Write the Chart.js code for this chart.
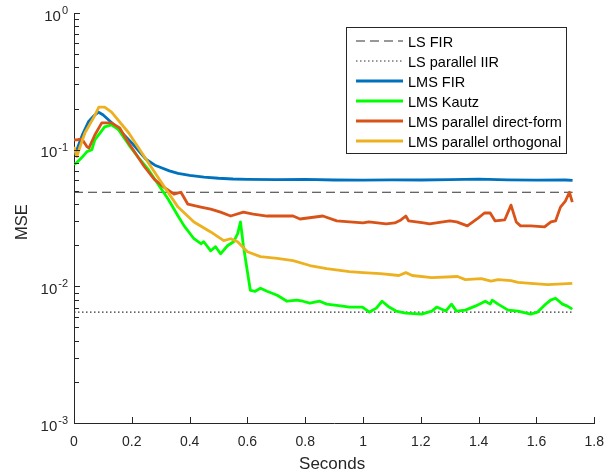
<!DOCTYPE html>
<html>
<head>
<meta charset="utf-8">
<script src="https://cdn.jsdelivr.net/npm/chart.js@4.4.1/dist/chart.umd.min.js"></script>
<style>
  html, body { margin: 0; padding: 0; background: #fff; }
</style>
</head>
<body>
<canvas id="mseChart" width="615" height="476"></canvas>
<script>
// time axis (seconds) and MSE
const tLs = [0, 1.725]
const lsFir = [0.0488, 0.0488]
const lsIir = [0.00648, 0.00648]

const tFir = [0, 0.01, 0.03, 0.05, 0.07, 0.085, 0.1, 0.12, 0.15, 0.18, 0.2, 0.22, 0.25, 0.28, 0.3, 0.33, 0.36, 0.4, 0.45, 0.5, 0.55, 0.6, 0.7, 0.8, 0.9, 1.0, 1.1, 1.2, 1.3, 1.4, 1.5, 1.6, 1.7, 1.725]
const mseFir = [0.092, 0.1, 0.13, 0.16, 0.178, 0.188, 0.18, 0.165, 0.144, 0.124, 0.112, 0.1, 0.0847, 0.077, 0.0741, 0.07, 0.067, 0.0648, 0.063, 0.0618, 0.061, 0.0606, 0.0603, 0.0606, 0.06, 0.0598, 0.0601, 0.06, 0.0604, 0.0608, 0.0602, 0.0598, 0.06, 0.0597]

const tKautz = [0, 0.01, 0.027, 0.045, 0.062, 0.072, 0.106, 0.13, 0.154, 0.189, 0.223, 0.257, 0.291, 0.326, 0.36, 0.381, 0.415, 0.439, 0.449, 0.473, 0.49, 0.507, 0.531, 0.552, 0.566, 0.576, 0.586, 0.6, 0.61, 0.627, 0.645, 0.668, 0.703, 0.737, 0.771, 0.792, 0.816, 0.85, 0.874, 0.929, 0.953, 0.998, 1.022, 1.046, 1.066, 1.09, 1.114, 1.148, 1.203, 1.238, 1.255, 1.286, 1.306, 1.323, 1.354, 1.388, 1.423, 1.44, 1.447, 1.467, 1.502, 1.536, 1.58, 1.604, 1.628, 1.649, 1.666, 1.69, 1.707, 1.724]
const mseKautz = [0.078, 0.0805, 0.0875, 0.0968, 0.1, 0.118, 0.147, 0.152, 0.14, 0.109, 0.0875, 0.0716, 0.0558, 0.0434, 0.0327, 0.0277, 0.0223, 0.0205, 0.0212, 0.0182, 0.0195, 0.0173, 0.0198, 0.0212, 0.0242, 0.0296, 0.0198, 0.0128, 0.00935, 0.0092, 0.00968, 0.0092, 0.00861, 0.00778, 0.00792, 0.00778, 0.00753, 0.00778, 0.00741, 0.00716, 0.00705, 0.00705, 0.00648, 0.00693, 0.00778, 0.00705, 0.00659, 0.00637, 0.00627, 0.00659, 0.00705, 0.00659, 0.00741, 0.00659, 0.0067, 0.00716, 0.00778, 0.00741, 0.00792, 0.00741, 0.0067, 0.00659, 0.00627, 0.00648, 0.00728, 0.00792, 0.00818, 0.00741, 0.00716, 0.00681]

const tDirect = [0, 0.01, 0.027, 0.045, 0.052, 0.072, 0.096, 0.13, 0.158, 0.189, 0.243, 0.278, 0.312, 0.346, 0.37, 0.394, 0.439, 0.473, 0.507, 0.542, 0.586, 0.62, 0.668, 0.758, 0.782, 0.861, 0.909, 0.953, 1.0, 1.02, 1.08, 1.11, 1.131, 1.148, 1.158, 1.21, 1.23, 1.3, 1.324, 1.361, 1.398, 1.42, 1.44, 1.457, 1.49, 1.512, 1.53, 1.545, 1.58, 1.628, 1.65, 1.666, 1.683, 1.7, 1.714, 1.724]
const mseDirect = [0.118, 0.118, 0.12, 0.105, 0.103, 0.128, 0.157, 0.157, 0.144, 0.112, 0.0753, 0.0606, 0.053, 0.0472, 0.0488, 0.0399, 0.038, 0.0367, 0.0349, 0.0327, 0.0349, 0.0338, 0.0327, 0.0327, 0.0311, 0.0327, 0.0301, 0.0296, 0.0291, 0.0296, 0.0286, 0.0291, 0.0306, 0.0327, 0.0301, 0.0291, 0.0286, 0.0301, 0.0296, 0.0277, 0.0316, 0.0344, 0.0344, 0.0301, 0.0306, 0.0393, 0.0296, 0.0277, 0.0277, 0.0272, 0.0296, 0.0301, 0.038, 0.042, 0.0488, 0.0413]

const tOrtho = [0, 0.01, 0.021, 0.038, 0.069, 0.086, 0.106, 0.13, 0.189, 0.243, 0.302, 0.36, 0.415, 0.473, 0.518, 0.542, 0.566, 0.6, 0.645, 0.703, 0.758, 0.816, 0.874, 0.953, 1.0, 1.06, 1.124, 1.148, 1.17, 1.238, 1.327, 1.354, 1.409, 1.443, 1.467, 1.512, 1.536, 1.58, 1.639, 1.724]
const mseOrtho = [0.105, 0.089, 0.105, 0.133, 0.173, 0.205, 0.205, 0.188, 0.133, 0.089, 0.0577, 0.038, 0.0296, 0.025, 0.0216, 0.0223, 0.0212, 0.0179, 0.0165, 0.016, 0.0154, 0.0142, 0.0135, 0.0128, 0.0126, 0.0124, 0.012, 0.0126, 0.012, 0.0116, 0.0118, 0.0112, 0.0114, 0.0109, 0.0112, 0.011, 0.0107, 0.0105, 0.0103, 0.0105]

const decades = [0.001, 0.01, 0.1, 1]
const decadeExp = ['-3', '-2', '-1', '0']

const FONT = "'Liberation Sans', Arial, Helvetica, sans-serif"
const AXIS = '#262626'

const pts = (xs, ys) => xs.map((x, i) => ({ x, y: ys[i] }))

// minor log ticks 2..9 inside every decade
const yTicks = []
decades.forEach((d, i) => {
    yTicks.push({ value: d, major: true })
    if (i < decades.length - 1) {
        for (let m = 2; m <= 9; m++) yTicks.push({ value: d * m, major: false })
    }
})

const matlabAxes = {
    id: 'matlabAxes',
    afterDraw(chart) {
        const { ctx, chartArea: a, scales: { x, y } } = chart
        ctx.save()
        ctx.strokeStyle = AXIS
        ctx.lineWidth = 1

        // inward tick marks
        ctx.beginPath()
        x.ticks.forEach(t => {
            const px = Math.round(x.getPixelForValue(t.value)) + 0.5
            ctx.moveTo(px, a.bottom)
            ctx.lineTo(px, a.bottom - 6)
        })
        y.ticks.forEach(t => {
            const py = Math.round(y.getPixelForValue(t.value)) + 0.5
            ctx.moveTo(a.left, py)
            ctx.lineTo(a.left + (t.major ? 6 : 5), py)
        })
        ctx.stroke()

        // y tick labels 10^n
        ctx.fillStyle = AXIS
        ctx.textBaseline = 'middle'
        ctx.textAlign = 'right'
        decades.forEach((d, i) => {
            const py = y.getPixelForValue(d)
            const right = a.left - 6
            ctx.font = '11px ' + FONT
            const ew = ctx.measureText(decadeExp[i]).width
            ctx.fillText(decadeExp[i], right, py - 2)
            ctx.font = '15px ' + FONT
            ctx.fillText('10', right - ew - 1, py + 3.5)
        })

        // axis titles
        ctx.textAlign = 'center'
        ctx.font = '17px ' + FONT
        ctx.fillText('Seconds', (a.left + a.right) / 2 - 2, 464)
        ctx.save()
        ctx.font = '16.5px ' + FONT
        ctx.translate(22, (a.top + a.bottom) / 2 + 4)
        ctx.rotate(-Math.PI / 2)
        ctx.fillText('MSE', 0, 0)
        ctx.restore()

        // legend box
        const bx = 346, by = 27, bw = 220, bh = 126
        ctx.fillStyle = '#fff'
        ctx.fillRect(bx, by, bw, bh)
        ctx.strokeStyle = AXIS
        ctx.strokeRect(bx + 0.5, by + 0.5, bw, bh)
        ctx.font = '14.5px ' + FONT
        ctx.textAlign = 'left'
        chart.data.datasets.forEach((ds, i) => {
            const ry = by + 14 + i * 20
            ctx.save()
            ctx.strokeStyle = ds.borderColor
            ctx.lineWidth = ds.borderWidth
            ctx.setLineDash(ds.borderDash || [])
            ctx.beginPath()
            ctx.moveTo(bx + 10, ry)
            ctx.lineTo(bx + 57, ry)
            ctx.stroke()
            ctx.restore()
            ctx.fillStyle = '#000'
            ctx.fillText(ds.label, bx + 62, ry + 1.5)
        })
        ctx.restore()
    }
}

const data = {
    datasets: [
        { label: 'LS FIR', data: pts(tLs, lsFir), borderColor: '#333', borderWidth: 1.2, borderDash: [9, 5], order: 5 },
        { label: 'LS parallel IIR', data: pts(tLs, lsIir), borderColor: '#333', borderWidth: 1.2, borderDash: [1.5, 2.5], order: 4 },
        { label: 'LMS FIR', data: pts(tFir, mseFir), borderColor: '#0072BD', borderWidth: 2.8, order: 3 },
        { label: 'LMS Kautz', data: pts(tKautz, mseKautz), borderColor: '#00FF00', borderWidth: 2.8, order: 2 },
        { label: 'LMS parallel direct-form', data: pts(tDirect, mseDirect), borderColor: '#D95319', borderWidth: 2.8, order: 1 },
        { label: 'LMS parallel orthogonal', data: pts(tOrtho, mseOrtho), borderColor: '#EDB120', borderWidth: 2.8, order: 0 }
    ]
}

const options = {
    responsive: false,
    animation: false,
    events: [],
    layout: { padding: { top: 13, right: 16, left: 0, bottom: 0 } },
    elements: { point: { radius: 0 }, line: { tension: 0, borderJoinStyle: 'round', borderCapStyle: 'butt' } },
    plugins: { legend: { display: false }, tooltip: { enabled: false } },
    scales: {
        x: {
            type: 'linear',
            min: 0, max: 1.8,
            grid: { display: false, drawTicks: false },
            border: { display: true, color: AXIS, width: 1 },
            ticks: {
                stepSize: 0.2,
                padding: 11,
                color: AXIS,
                font: { family: FONT, size: 14 },
                maxRotation: 0,
                callback: v => String(+v.toFixed(1))
            },
            afterFit: s => { s.height = 476 - 423 }
        },
        y: {
            type: 'logarithmic',
            min: 0.001, max: 1,
            grid: { display: false, drawTicks: false },
            border: { display: true, color: AXIS, width: 1 },
            ticks: { display: false, autoSkip: false },
            afterBuildTicks: s => { s.ticks = yTicks.map(t => ({ ...t })) },
            afterFit: s => { s.width = 74 }
        }
    }
}

new Chart('mseChart', { type: 'line', data, options, plugins: [matlabAxes] })
</script>
</body>
</html>
